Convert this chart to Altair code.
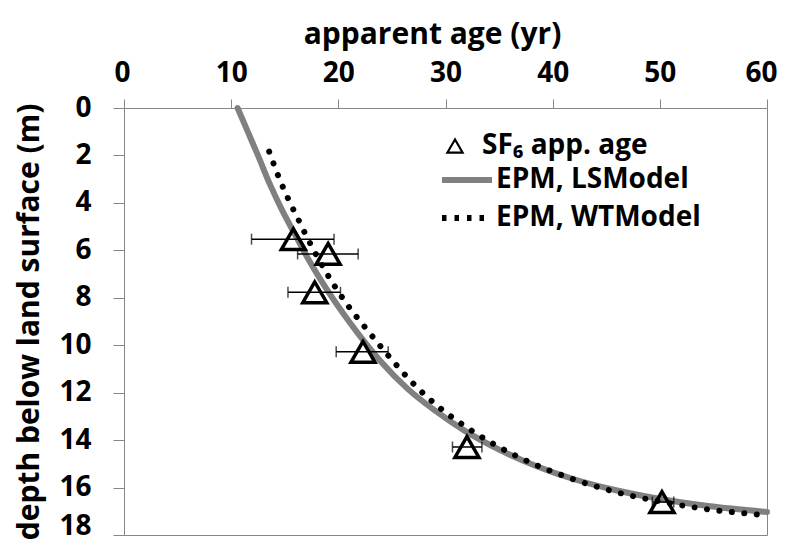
import altair as alt
import pandas as pd

# ---- data ----
obs_age = [15.8, 19.05, 17.8, 22.3, 32.0, 50.2]
obs_depth = [5.53, 6.15, 7.77, 10.28, 14.29, 16.61]
obs_lo = [11.9, 16.2, 15.3, 19.8, 30.65, 49.3]
obs_hi = [19.6, 21.85, 20.2, 24.65, 33.4, 51.3]

ls_age = [10.6, 11.6, 12.5, 13.6, 14.8, 15.8, 17.3, 19.0, 21.0, 23.9,
          26.5, 29.0, 31.7, 35.0, 38.5, 42.0, 45.5, 49.4, 54.5, 60.0]
ls_depth = [0.0, 1.05, 2.0, 3.2, 4.35, 5.2, 6.45, 7.7, 9.0, 10.65,
            11.85, 12.75, 13.58, 14.4, 15.1, 15.65, 16.07, 16.43, 16.78, 17.03]

wt_age = [13.55, 14.4, 15.33, 16.42, 16.98, 18.75, 20.8, 22.5, 24.5, 27.3,
          29.5, 32.0, 36.3, 38.3, 41.8, 46.9, 50.2, 54.2, 59.0, 60.0]
wt_depth = [1.84, 2.87, 3.84, 4.84, 5.36, 6.84, 8.27, 9.25, 10.35, 11.76,
            12.65, 13.47, 14.6, 15.02, 15.63, 16.3, 16.6, 16.9, 17.13, 17.17]

x_ticks = [0, 10, 20, 30, 40, 50, 60]
y_ticks = [0, 2, 4, 6, 8, 10, 12, 14, 16, 18]

obs_name = "SF\u2086 app. age"
ls_name = "EPM, LSModel"
wt_name = "EPM, WTModel"

FONT = "Open Sans"
GREY = "#868686"
LINE_GREY = "#808080"

obs = pd.DataFrame({"age": obs_age, "depth": obs_depth, "lo": obs_lo,
                    "hi": obs_hi, "series": [obs_name] * len(obs_age)})
lines = pd.concat([
    pd.DataFrame({"age": ls_age, "depth": ls_depth, "series": ls_name}),
    pd.DataFrame({"age": wt_age, "depth": wt_depth, "series": wt_name}),
], ignore_index=True)

x_scale = alt.Scale(domain=[0, 60], nice=False, zero=False)
y_scale = alt.Scale(domain=[0, 18], reverse=True, nice=False, zero=False)

x_axis = alt.Axis(orient="top", values=x_ticks, title="apparent age (yr)",
                  tickSize=9, labelPadding=12, titlePadding=10, titleX=308,
                  labelFlush=True, labelFlushOffset=10,
                  labelOverlap=False, grid=False)
y_axis = alt.Axis(orient="left", values=y_ticks, title="depth below land surface (m)",
                  tickSize=11, labelPadding=22, titlePadding=14,
                  labelFlush=False, labelOverlap=False, grid=False,
                  labelOffset={"condition": {"test": "datum.value >= 18", "value": -9},
                               "value": 0})

X = alt.X("age:Q", scale=x_scale, axis=x_axis)
Y = alt.Y("depth:Q", scale=y_scale, axis=y_axis)

line_legend = alt.Legend(orient="none", legendX=315, legendY=53, title=None,
                         symbolType="stroke", symbolSize=2500, symbolStrokeWidth=6,
                         clipHeight=38, rowPadding=0, padding=0, labelOffset=1,
                         labelFont=FONT, labelFontSize=28, labelFontWeight="bold",
                         labelColor="black", labelLimit=400)
line_domain = [ls_name, wt_name]
color_enc = alt.Color("series:N",
                      scale=alt.Scale(domain=line_domain, range=[LINE_GREY, "black"]),
                      legend=line_legend)
# dash pattern used by the legend symbols (the plotted dotted curve uses round dots)
dash_enc = alt.StrokeDash("series:N",
                          scale=alt.Scale(domain=line_domain, range=[[1, 0], [4.5, 8]]),
                          legend=line_legend)

ls_layer = alt.Chart(lines).mark_line(
    strokeWidth=6, strokeCap="round", interpolate="monotone"
).transform_filter(alt.datum.series == ls_name).encode(
    x=X, y=Y, color=color_enc, order="age:Q")

wt_layer = alt.Chart(lines).mark_line(
    strokeWidth=6, strokeCap="round", strokeDash=[0.01, 12.5], interpolate="monotone"
).transform_filter(alt.datum.series == wt_name).encode(
    x=X, y=Y, color=color_enc, order="age:Q")

# carries the dash scale for the legend only (draws nothing)
legend_layer = alt.Chart(lines).mark_line(strokeWidth=6).transform_filter(
    "false").encode(x=X, y=Y, color=color_enc, strokeDash=dash_enc)

err = alt.Chart(obs).mark_rule(color="black", strokeWidth=1.5).encode(
    x=alt.X("lo:Q", scale=x_scale, axis=x_axis), x2="hi:Q", y=Y)
cap_lo = alt.Chart(obs).mark_tick(orient="vertical", size=11, thickness=1.5,
                                  color="black").encode(x=alt.X("lo:Q", scale=x_scale, axis=x_axis), y=Y)
cap_hi = alt.Chart(obs).mark_tick(orient="vertical", size=11, thickness=1.5,
                                  color="black").encode(x=alt.X("hi:Q", scale=x_scale, axis=x_axis), y=Y)

obs_legend = alt.Legend(orient="none", legendX=317, legendY=19, title=None,
                        symbolType="triangle-up", symbolSize=230, symbolStrokeWidth=2.2,
                        symbolStrokeColor="black",
                        clipHeight=38, padding=0, labelOffset=13,
                        labelFont=FONT, labelFontSize=28,
                        labelFontWeight="bold", labelColor="black", labelLimit=400)

pts = alt.Chart(obs).mark_point(shape="triangle-up", filled=False, size=576,
                                strokeWidth=3.5, stroke="black", opacity=1).encode(
    x=X, y=Y,
    fill=alt.Fill("series:N",
                  scale=alt.Scale(domain=[obs_name], range=["transparent"]),
                  legend=obs_legend))

chart = alt.layer(ls_layer, err, cap_lo, cap_hi, pts, wt_layer, legend_layer).properties(
    width=643, height=427,
    padding={"left": 116, "top": 100, "right": 11, "bottom": 7},
    autosize=alt.AutoSizeParams(type="none"),
).configure_view(stroke=GREY, strokeWidth=1).configure_axis(
    domainColor=GREY, tickColor=GREY, domainWidth=1, tickWidth=1,
    labelFont=FONT, labelFontSize=28, labelFontWeight="bold", labelColor="black",
    titleFont=FONT, titleFontSize=30, titleFontWeight="bold", titleColor="black",
)

chart.save("out.html", embed_options={"renderer": "svg", "actions": False})
